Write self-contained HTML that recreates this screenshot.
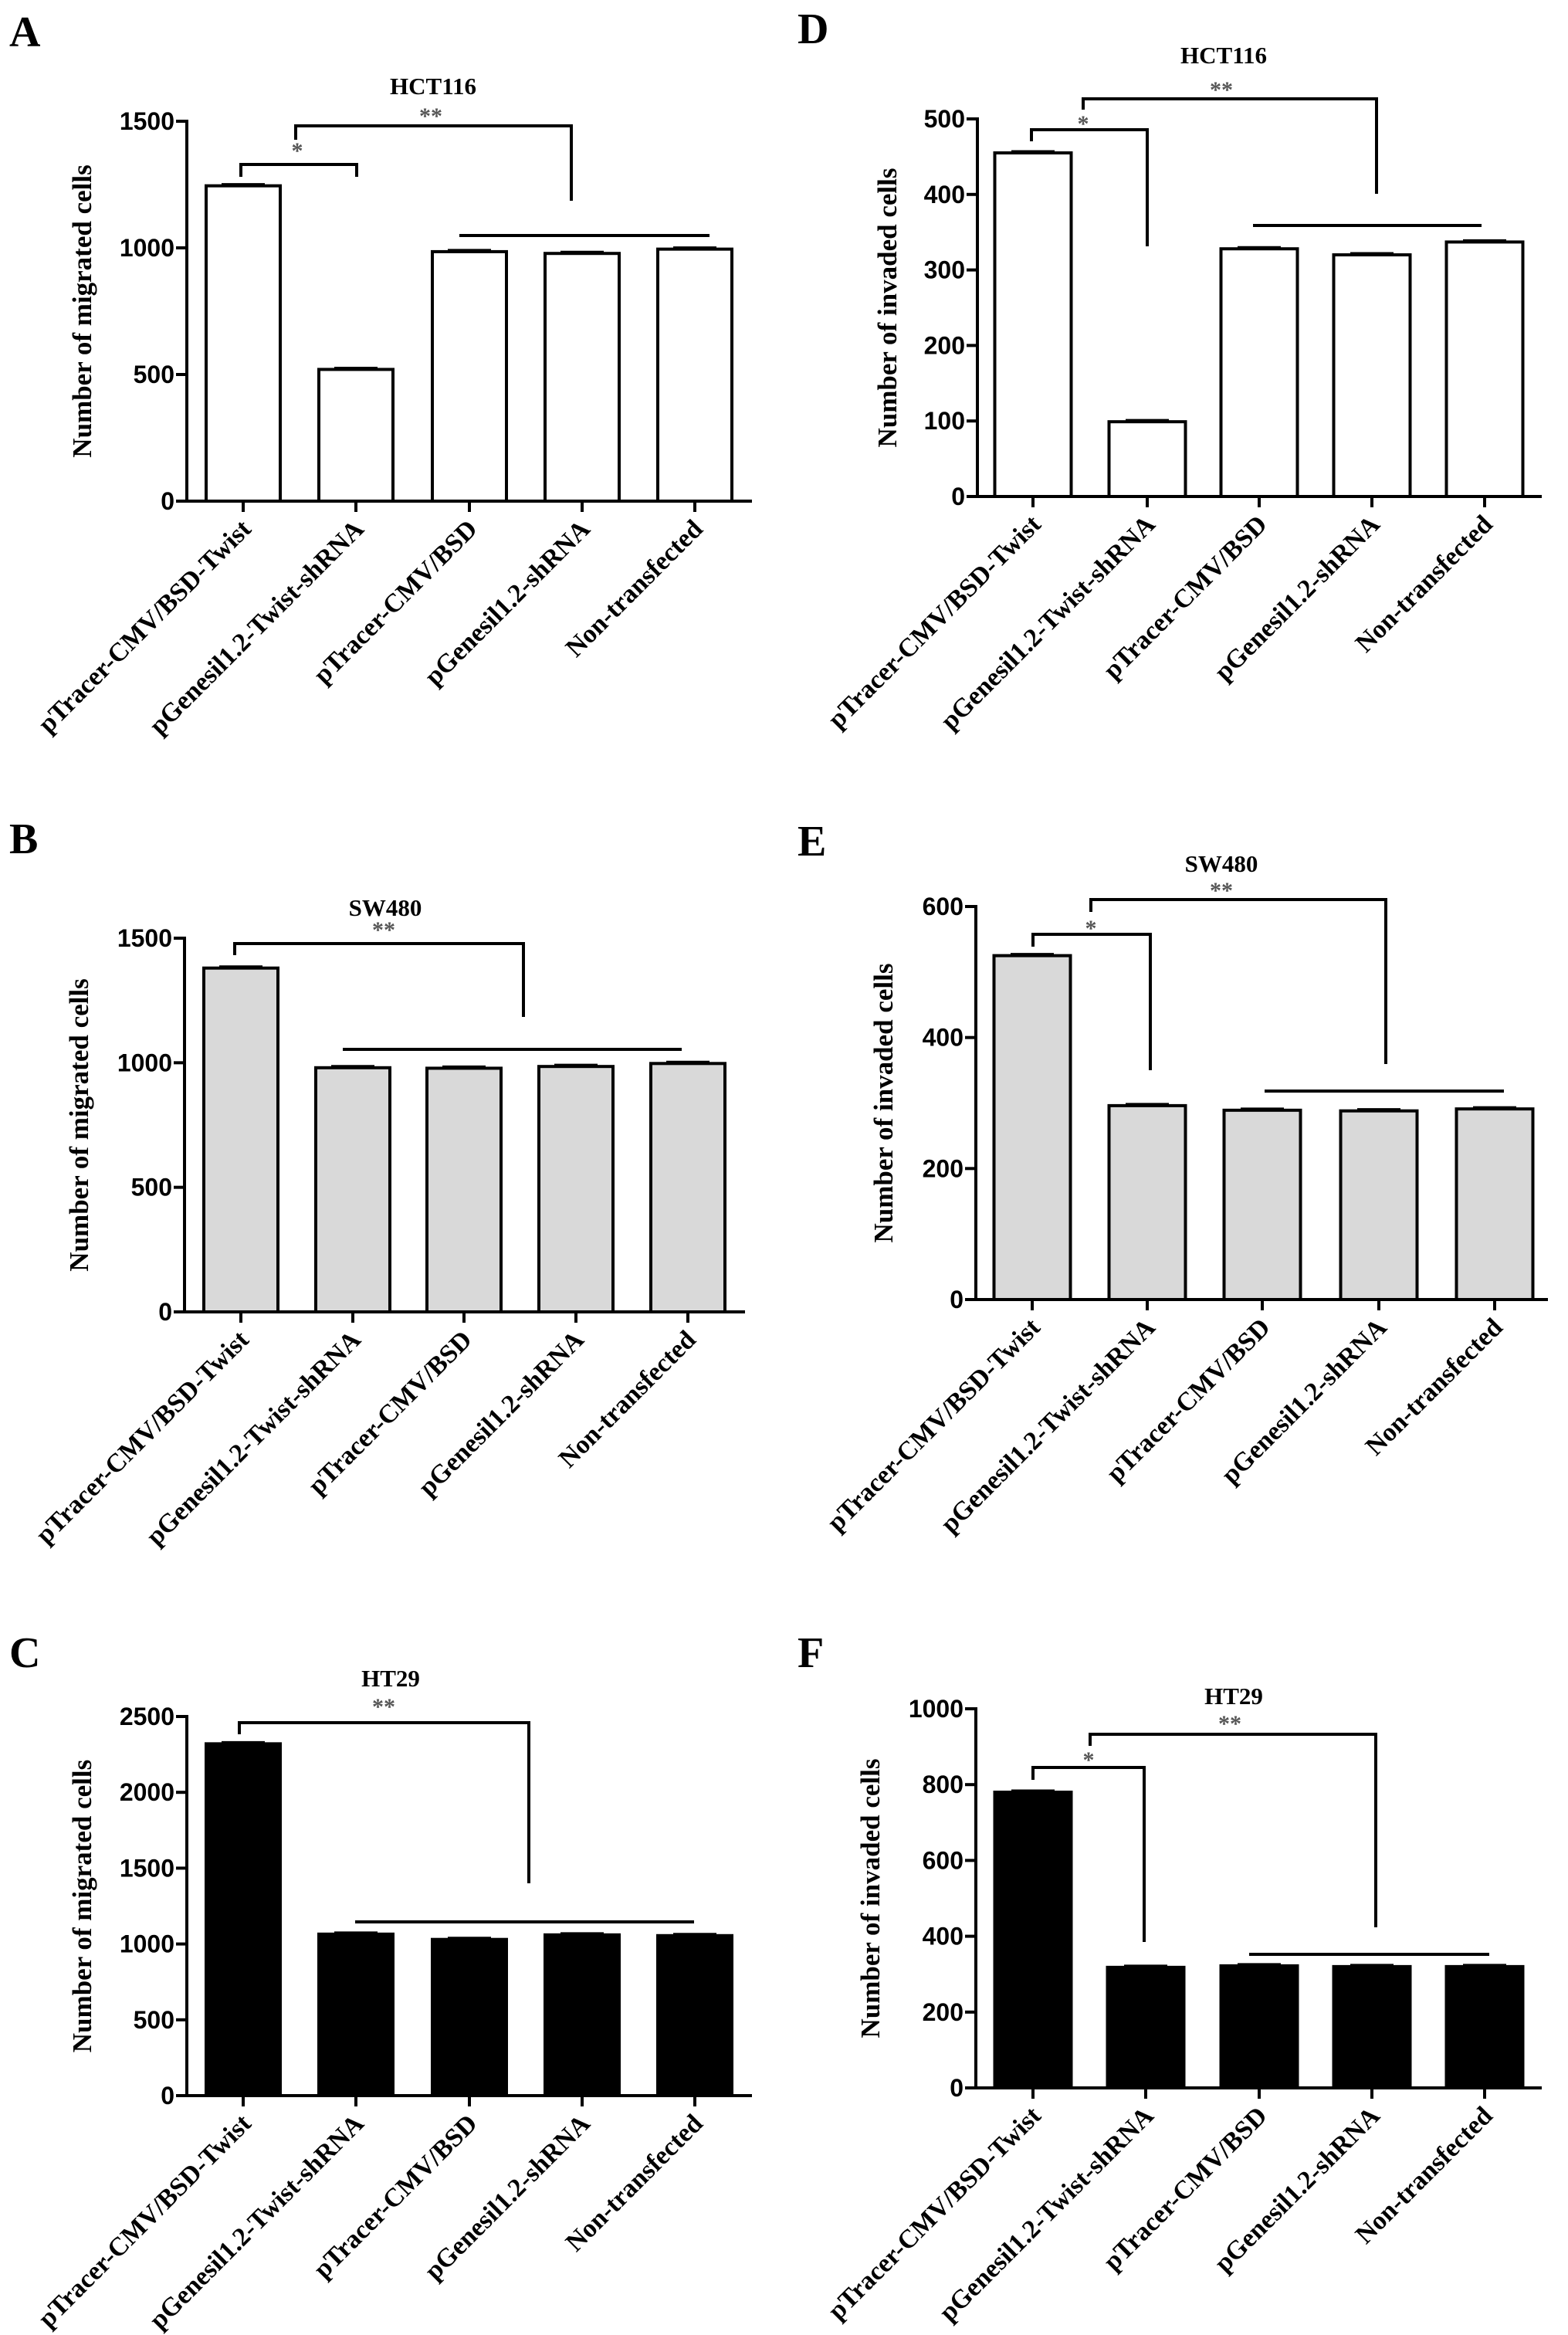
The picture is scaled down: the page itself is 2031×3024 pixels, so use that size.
<!DOCTYPE html>
<html><head><meta charset="utf-8"><style>
body{margin:0;background:#fff}
svg{display:block}
text{font-weight:bold}
.tick{font-family:"Liberation Sans",sans-serif;font-size:32px}
.ser{font-family:"Liberation Serif",serif}
</style></head>
<body>
<svg id="fig" width="2031" height="3024" viewBox="0 0 2031 3024" xmlns="http://www.w3.org/2000/svg"></svg>
<script>
const categories = ["pTracer-CMV/BSD-Twist","pGenesil1.2-Twist-shRNA","pTracer-CMV/BSD","pGenesil1.2-shRNA","Non-transfected"];
const valuesA = [1245, 520, 985, 978, 995];
const valuesB = [1380, 980, 978, 985, 997];
const valuesC = [2320, 1065, 1030, 1060, 1055];
const valuesD = [455, 99, 328, 320, 337];
const valuesE = [525, 296, 289, 288, 291];
const valuesF = [780, 318, 322, 320, 320];
const ticksA = [0, 500, 1000, 1500];
const ticksB = [0, 500, 1000, 1500];
const ticksC = [0, 500, 1000, 1500, 2000, 2500];
const ticksD = [0, 100, 200, 300, 400, 500];
const ticksE = [0, 200, 400, 600];
const ticksF = [0, 200, 400, 600, 800, 1000];

const NS = "http://www.w3.org/2000/svg";
const svg = document.getElementById('fig');
function mk(tag, attrs, parent, txt){
  const e = document.createElementNS(NS, tag);
  for (const k in attrs) e.setAttribute(k, attrs[k]);
  if (txt !== undefined) e.textContent = txt;
  (parent || svg).appendChild(e);
  return e;
}
const panels = [
 {id:'a', letter:'A', lx:12, ly:60, title:'HCT116', tx:561, ty:122, ax:242, y0:649, yTop:157, vmax:1500, xend:974, centers:[315,461,608,754,900], bw:96, vals:valuesA, ticks:ticksA, fill:'#fff', ylab:'Number of migrated cells', ylx:118,
  brackets:[{x1:383,x2:740,y:163,l:181,r:260,star:'**',sx:558,sy:160},{x1:312,x2:462,y:213,l:229,r:229,star:'*',sx:385,sy:205}], line:[595,919,305]},
 {id:'b', letter:'B', lx:12, ly:1105, title:'SW480', tx:499, ty:1186, ax:239, y0:1699, yTop:1215, vmax:1500, xend:965, centers:[312,457,601,746,891], bw:96, vals:valuesB, ticks:ticksB, fill:'#d9d9d9', ylab:'Number of migrated cells', ylx:114,
  brackets:[{x1:304,x2:678,y:1222,l:1237,r:1317,star:'**',sx:497,sy:1214}], line:[444,883,1359]},
 {id:'c', letter:'C', lx:12, ly:2159, title:'HT29', tx:506, ty:2184, ax:242, y0:2714, yTop:2223, vmax:2500, xend:974, centers:[315,461,608,754,900], bw:96, vals:valuesC, ticks:ticksC, fill:'#000', ylab:'Number of migrated cells', ylx:118,
  brackets:[{x1:310,x2:685,y:2231,l:2246,r:2439,star:'**',sx:497,sy:2220}], line:[460,899,2489]},
 {id:'d', letter:'D', lx:1033, ly:56, title:'HCT116', tx:1585, ty:82, ax:1266, y0:643, yTop:154, vmax:500, xend:1997, centers:[1338,1486,1631,1777,1923], bw:99, vals:valuesD, ticks:ticksD, fill:'#fff', ylab:'Number of invaded cells', ylx:1161,
  brackets:[{x1:1403,x2:1783,y:128,l:142,r:251,star:'**',sx:1582,sy:126},{x1:1336,x2:1486,y:168,l:183,r:319,star:'*',sx:1403,sy:170}], line:[1623,1919,292]},
 {id:'e', letter:'E', lx:1033, ly:1108, title:'SW480', tx:1582, ty:1129, ax:1264, y0:1683, yTop:1174, vmax:600, xend:2005, centers:[1337,1486,1635,1786,1936], bw:99, vals:valuesE, ticks:ticksE, fill:'#d9d9d9', ylab:'Number of invaded cells', ylx:1156,
  brackets:[{x1:1413,x2:1795,y:1165,l:1181,r:1378,star:'**',sx:1582,sy:1163},{x1:1338,x2:1490,y:1210,l:1226,r:1386,star:'*',sx:1413,sy:1212}], line:[1638,1948,1413]},
 {id:'f', letter:'F', lx:1033, ly:2159, title:'HT29', tx:1598, ty:2207, ax:1264, y0:2704, yTop:2213, vmax:1000, xend:1997, centers:[1338,1484,1631,1777,1923], bw:99, vals:valuesF, ticks:ticksF, fill:'#000', ylab:'Number of invaded cells', ylx:1139,
  brackets:[{x1:1412,x2:1782,y:2246,l:2261,r:2496,star:'**',sx:1593,sy:2242},{x1:1338,x2:1482,y:2289,l:2305,r:2515,star:'*',sx:1410,sy:2289}], line:[1618,1929,2531]}
];

panels.forEach(p => {
  const g = mk('g', {});
  
  
  const yS = v => p.y0 - (v / p.vmax) * (p.y0 - p.yTop);
  const lt = mk('text', {x:p.lx, y:p.ly, class:'ser', 'font-size':56}, g, p.letter);
  
  
  const tt = mk('text', {x:p.tx, y:p.ty, class:'ser', 'font-size':31, 'text-anchor':'middle'}, g, p.title);
  
  
  const yl = mk('text', {x:p.ylx, y:(p.y0 + p.yTop) / 2, class:'ser', 'font-size':35, 'text-anchor':'middle', transform:`rotate(-90 ${p.ylx} ${(p.y0 + p.yTop) / 2})`}, g, p.ylab);
  
  
  p.vals.forEach((v, i) => {
    const cx = p.centers[i], top = yS(v);
    const r = mk('rect', {x:cx - p.bw/2, y:top, width:p.bw, height:p.y0 - top, fill:p.fill, stroke:'#000', 'stroke-width':4}, g);
    
    
    const eb = mk('line', {x1:cx - 28, x2:cx + 28, y1:top - 2, y2:top - 2, stroke:'#000', 'stroke-width':3}, g);
    
    
  });
  const ya = mk('line', {x1:p.ax, x2:p.ax, y1:p.yTop - 2, y2:p.y0 + 2, stroke:'#000', 'stroke-width':4}, g);
  
  
  const xa = mk('line', {x1:p.ax - 14, x2:p.xend, y1:p.y0, y2:p.y0, stroke:'#000', 'stroke-width':4}, g);
  
  
  p.ticks.forEach(t => {
    const y = yS(t);
    mk('line', {x1:p.ax - 14, x2:p.ax, y1:y, y2:y, stroke:'#000', 'stroke-width':4}, g);
    const tl = mk('text', {x:p.ax - 16, y:y + 11, class:'tick', 'text-anchor':'end'}, g, String(t));
    
    
  });
  categories.forEach((c, i) => {
    const cx = p.centers[i];
    mk('line', {x1:cx, x2:cx, y1:p.y0, y2:p.y0 + 14, stroke:'#000', 'stroke-width':4}, g);
    const ax = cx + 12, ay = p.y0 + 38;
    const xl = mk('text', {x:ax, y:ay, class:'ser', 'font-size':34, 'text-anchor':'end', transform:`rotate(-45 ${ax} ${ay})`}, g, c);
    
    
  });
  p.brackets.forEach(b => {
    const pl = mk('polyline', {points:`${b.x1},${b.l} ${b.x1},${b.y} ${b.x2},${b.y} ${b.x2},${b.r}`, fill:'none', stroke:'#000', 'stroke-width':4}, g);
    
    
    const st = mk('text', {x:b.sx, y:b.sy, class:'ser', 'font-size':30, fill:'#555', 'text-anchor':'middle', 'font-weight':'normal'}, g, b.star);
    
    
  });
  const hl = mk('line', {x1:p.line[0], x2:p.line[1], y1:p.line[2], y2:p.line[2], stroke:'#000', 'stroke-width':4}, g);
  
  
});
</script>
</body></html>
